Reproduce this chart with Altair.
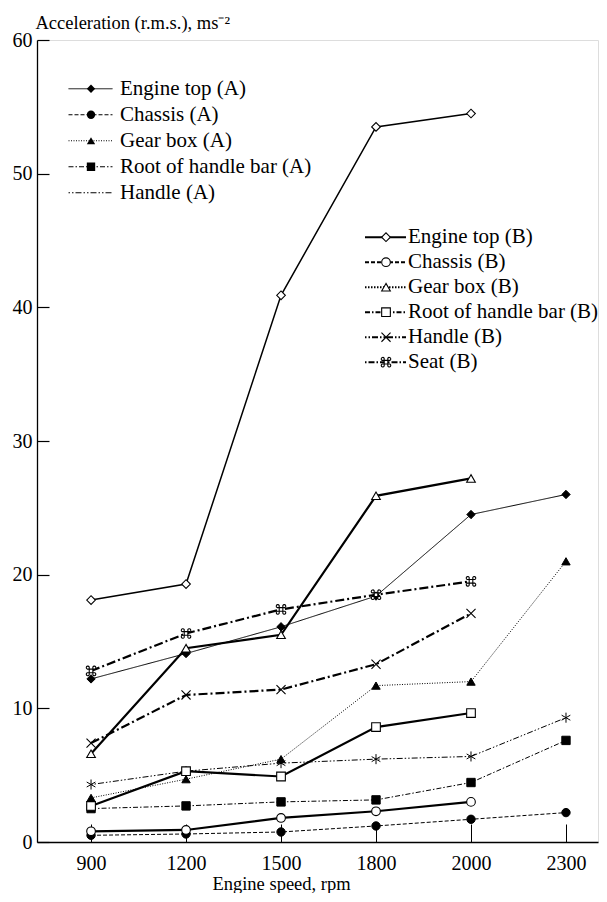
import altair as alt
import pandas as pd

# ---------------- data ----------------
rpm = [900, 1200, 1500, 1800, 2000, 2300]
rpm_b = [900, 1200, 1500, 1800, 2000]
y_ticks = [0, 10, 20, 30, 40, 50, 60]

names_a = ["Engine top (A)", "Chassis (A)", "Gear box (A)",
           "Root of handle bar (A)", "Handle (A)"]
engine_top_a = [12.2, 14.1, 16.1, 18.4, 24.5, 26.0]
chassis_a = [0.5, 0.6, 0.75, 1.2, 1.7, 2.2]
gear_box_a = [3.3, 4.7, 6.2, 11.7, 12.0, 21.0]
root_a = [2.5, 2.7, 3.0, 3.15, 4.45, 7.6]
handle_a = [4.3, 5.3, 5.9, 6.2, 6.4, 9.3]

names_b = ["Engine top (B)", "Chassis (B)", "Gear box (B)",
           "Root of handle bar (B)", "Handle (B)", "Seat (B)"]
engine_top_b = [18.1, 19.3, 40.9, 53.5, 54.5]
chassis_b = [0.8, 0.9, 1.8, 2.3, 3.0]
gear_box_b = [6.6, 14.5, 15.5, 25.9, 27.2]
root_b = [2.7, 5.3, 4.9, 8.6, 9.65]
handle_b = [7.4, 11.0, 11.4, 13.3, 17.1]
seat_b = [12.8, 15.6, 17.4, 18.5, 19.5]


def long(names, series, xs):
    rows = []
    for n, vals in zip(names, series):
        for x, v in zip(xs, vals):
            rows.append({"rpm": x, "value": v, "series": n, "marker": n})
    return pd.DataFrame(rows)


df_a = long(names_a, [engine_top_a, chassis_a, gear_box_a, root_a, handle_a], rpm)
df_b = long(names_b, [engine_top_b, chassis_b, gear_box_b, root_b, handle_b, seat_b], rpm_b)
df_b_first = df_b.groupby("series", sort=False).head(1)

# ---------------- styles ----------------
W, H = 561, 802
FONT = "Liberation Serif"


def fmt(v):
    return f"{round(v, 3):g}"


def cmd_path(k):
    s, e, r = 0.35 * k, 0.75 * k, 0.3 * k
    parts = [f"M{fmt(-s)},{fmt(-s)}H{fmt(s)}V{fmt(s)}H{fmt(-s)}Z"]
    for sx, sy, sw in [(-1, -1, 0), (1, -1, 1), (-1, 1, 1), (1, 1, 0)]:
        parts.append(f"M{fmt(sx*s)},{fmt(sy*s)}L{fmt(sx*s)},{fmt(sy*e)}"
                     f"A{fmt(r)},{fmt(r)} 0 1 {sw} {fmt(sx*e)},{fmt(sy*s)}Z")
    return "".join(parts)


asterisk = "M0,-1.2L0,1.2M-1.04,-0.6L1.04,0.6M-1.04,0.6L1.04,-0.6"
cross_x = "M-1.05,-1.05L1.05,1.05M-1.05,1.05L1.05,-1.05"

shapes_a = ["diamond", "circle", "triangle-up", "square", asterisk]
shapes_b = ["diamond", "circle", "triangle-up", "square", cross_x, cmd_path(1.2)]

dash_a = [[1, 0], [4, 2], [1, 1.5], [5, 2, 1.5, 2], [1.5, 2, 1.5, 2, 6, 2]]
dash_b_legend = [[1, 0], [4, 2], [1.5, 1.5], [5, 2, 1.5, 2],
                 [1.5, 2, 1.5, 2, 6, 2], [1.5, 2, 6, 2]]

xscale = alt.Scale(type="point", domain=rpm, padding=0.453, align=0.628)
yscale = alt.Scale(domain=[0, 60], nice=False, zero=True)

main_x_axis = alt.Axis(
    orient="bottom", ticks=False, tickSize=0, domain=True, domainColor="black",
    domainWidth=1.3, grid=False, labelFont=FONT, labelFontSize=20,
    labelColor="black", labelPadding=11, labelAngle=0,
    title="Engine speed, rpm", titleFont=FONT, titleFontSize=18.5,
    titleFontWeight="normal", titleColor="black", titleX=244, titleY=47,
    titleBaseline="alphabetic", titleAlign="center")
main_y_axis = alt.Axis(
    orient="left", ticks=False, tickSize=0, domain=True, domainColor="black",
    domainWidth=1.3, grid=False, values=y_ticks, labelFont=FONT,
    labelFontSize=20, labelColor="black", labelPadding=5,
    title="Acceleration (r.m.s.), ms⁻²", titleFont=FONT, titleFontSize=18.5,
    titleFontWeight="normal", titleColor="black", titleAngle=0,
    titleAlign="left", titleBaseline="alphabetic", titleX=-2, titleY=-12)
tick_x_axis = alt.Axis(
    orient="top", offset=-H, labels=False, domain=False, ticks=True,
    tickSize=18, tickColor="black", tickWidth=1, title=None, grid=False)
tick_y_axis = alt.Axis(
    orient="right", offset=-W, labels=False, domain=False, ticks=True,
    tickSize=12, tickColor="black", tickWidth=1.2, values=y_ticks,
    title=None, grid=False)


def leg(x, y, row_h, **kw):
    return alt.Legend(orient="none", legendX=x, legendY=y, title=None,
                      clipHeight=row_h, rowPadding=0, padding=0,
                      labelFont=FONT, labelFontSize=21, labelColor="black",
                      labelLimit=400, **kw)


AX, AY, AROW = 31, 36, 25.5
BX, BY, BROW = 327, 185, 24.4

X0 = alt.X("rpm:O", scale=xscale, axis=None)
Y0 = alt.Y("value:Q", scale=yscale, axis=None)

a_lines = alt.Chart(df_a).mark_line(color="black", strokeWidth=1).encode(
    x=alt.X("rpm:O", scale=xscale, axis=main_x_axis),
    y=alt.Y("value:Q", scale=yscale, axis=main_y_axis),
    strokeDash=alt.StrokeDash(
        "series:N", scale=alt.Scale(domain=names_a, range=dash_a),
        legend=leg(AX, AY, AROW, symbolType="stroke", symbolSize=1936,
                   symbolStrokeWidth=1, symbolStrokeColor="black",
                   labelOffset=7)),
)

b_thin = alt.Chart(df_b).transform_filter(
    alt.FieldOneOfPredicate(field="series", oneOf=["Engine top (B)"])
).mark_line(color="black", strokeWidth=1.5).encode(x=X0, y=Y0, detail="series:N")

b_thick = alt.Chart(df_b).transform_filter(
    alt.FieldOneOfPredicate(field="series",
                            oneOf=["Chassis (B)", "Gear box (B)", "Root of handle bar (B)"])
).mark_line(color="black", strokeWidth=2.2).encode(x=X0, y=Y0, detail="series:N")

b_dashdot = alt.Chart(df_b).transform_filter(
    alt.FieldOneOfPredicate(field="series", oneOf=["Handle (B)", "Seat (B)"])
).mark_line(color="black", strokeWidth=2.2, strokeDash=[9, 3, 2, 3]).encode(
    x=X0, y=Y0, detail="series:N")

b_legend_lines = alt.Chart(df_b_first).mark_line(color="black", strokeWidth=2).encode(
    x=X0, y=Y0,
    strokeDash=alt.StrokeDash(
        "series:N", scale=alt.Scale(domain=names_b, range=dash_b_legend),
        legend=leg(BX, BY, BROW, symbolType="stroke", symbolSize=1681,
                   symbolStrokeWidth=2, symbolStrokeColor="black",
                   labelOffset=1)),
)

a_pts = alt.Chart(df_a).mark_point(
    filled=True, fill="black", stroke="black", strokeWidth=1, opacity=1, size=70
).encode(
    x=alt.X("rpm:O", scale=xscale, axis=tick_x_axis),
    y=alt.Y("value:Q", scale=yscale, axis=tick_y_axis),
    shape=alt.Shape(
        "marker:N", scale=alt.Scale(domain=names_a, range=shapes_a),
        legend=leg(AX, AY, AROW, symbolSize=70, symbolOffset=12.5,
                   symbolFillColor="black", symbolStrokeColor="black",
                   symbolStrokeWidth=1, labelExpr="''")),
)

# white interiors for the open markers of series B
b_pts_fill = alt.Chart(df_b).mark_point(
    filled=True, color="white", opacity=1, size=75
).encode(
    x=X0, y=Y0,
    shape=alt.Shape("marker:N", scale=alt.Scale(domain=names_b, range=shapes_b),
                    legend=leg(BX, BY, BROW, symbolSize=75, symbolOffset=11.5,
                               labelExpr="''")),
)

b_pts = alt.Chart(df_b).mark_point(
    filled=False, color="black", strokeWidth=1.1, opacity=1, size=75
).encode(
    x=X0, y=Y0,
    shape=alt.Shape(
        "marker:N", scale=alt.Scale(domain=names_b, range=shapes_b),
        legend=leg(BX, BY, BROW, symbolSize=75, symbolOffset=11.5,
                   symbolStrokeColor="black", symbolStrokeWidth=1.1,
                   labelExpr="''")),
)

chart = alt.layer(
    a_lines, b_thin, b_thick, b_dashdot, b_legend_lines, a_pts, b_pts_fill, b_pts
).resolve_scale(
    strokeDash="independent", shape="independent"
).resolve_axis(
    x="independent", y="independent"
).properties(
    width=W, height=H,
    padding={"left": 4, "top": 5, "right": 0, "bottom": 0},
).configure_view(stroke=None).configure(font=FONT)

chart.save("out.html", embed_options={"renderer": "svg", "actions": False})
